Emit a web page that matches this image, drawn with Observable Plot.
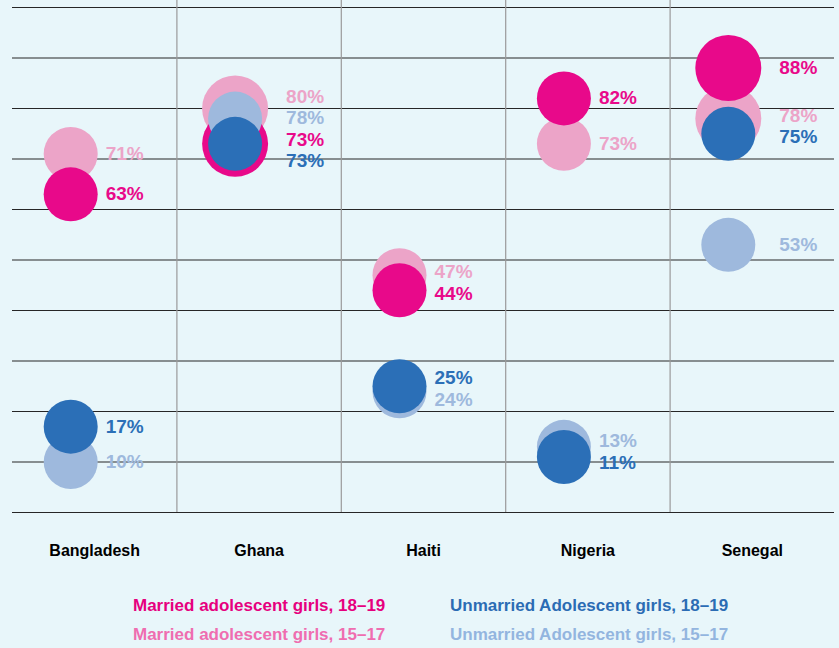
<!DOCTYPE html>
<html>
<head>
<meta charset="utf-8">
<script src="https://cdn.jsdelivr.net/npm/d3@7"></script>
<script src="https://cdn.jsdelivr.net/npm/@observablehq/plot@0.6"></script>
<style>
  html, body { margin: 0; padding: 0; background: #e8f6fa; }
  body { width: 839px; height: 648px; overflow: hidden; font-family: "Liberation Sans", Arial, Helvetica, sans-serif; }
  #chart svg { display: block; }
  #legend { position: relative; width: 839px; height: 68px; }
  .lg { position: absolute; font-weight: bold; font-size: 17px; line-height: 20px; white-space: nowrap; }
</style>
</head>
<body>
<div id="chart"></div>
<div id="legend"></div>
<script>
// ---- data ----
const countries = ["Bangladesh", "Ghana", "Haiti", "Nigeria", "Senegal"];
const seriesNames = [
  "Married adolescent girls, 15–17",
  "Married adolescent girls, 18–19",
  "Unmarried Adolescent girls, 15–17",
  "Unmarried Adolescent girls, 18–19"
];
const married1517   = [71, 80, 47, 73, 78];
const married1819   = [63, 73, 44, 82, 88];
const unmarried1517 = [10, 78, 24, 13, 53];
const unmarried1819 = [17, 73, 25, 11, 75];
const yTicks = [0, 10, 20, 30, 40, 50, 60, 70, 80, 90, 100];

// ---- styling config ----
const seriesColors = ["#eca4c8", "#e8098a", "#9eb9dd", "#2b6fb7"];
const legendColors = ["#ef6db0", "#e6007e", "#93b5df", "#2b6cb4"];
// bubbles drawn larger so they show behind overlapping ones
const enlarged = [["Ghana", 0], ["Ghana", 1], ["Senegal", 0], ["Senegal", 1]];
const enlargedCountries = new Set(enlarged.map(d => d[0]));

const seriesValues = [married1517, married1819, unmarried1517, unmarried1819];
const rows = [];
countries.forEach((c, i) => {
  seriesValues.forEach((vals, s) => {
    rows.push({
      xi: i,
      country: c,
      s,
      series: seriesNames[s],
      value: vals[i],
      r: enlarged.some(([ec, es]) => ec === c && es === s) ? 33 : 27
    });
  });
});

// dodge labels vertically (in value units) within each country
const gap = 4.25;
countries.forEach(c => {
  const items = rows.filter(d => d.country === c)
    .sort((a, b) => (b.value - a.value) || (a.s - b.s));
  let clusters = items.map(d => ({items: [d], center: d.value}));
  let changed = true;
  while (changed) {
    changed = false;
    for (let k = 0; k < clusters.length - 1; k++) {
      const a = clusters[k], b = clusters[k + 1];
      const aBottom = a.center - (a.items.length - 1) / 2 * gap;
      const bTop = b.center + (b.items.length - 1) / 2 * gap;
      if (aBottom - bTop < gap) {
        const its = a.items.concat(b.items);
        clusters.splice(k, 2, {items: its, center: d3.mean(its, d => d.value)});
        changed = true;
        break;
      }
    }
  }
  clusters.forEach(cl => {
    const n = cl.items.length;
    cl.items.forEach((d, j) => { d.labelY = cl.center + ((n - 1) / 2 - j) * gap; });
  });
});

const font = "'Liberation Sans', Arial, Helvetica, sans-serif";

const chart = Plot.plot({
  width: 839,
  height: 580,
  marginTop: 7,
  marginBottom: 68,
  marginLeft: 12,
  marginRight: 5,
  style: {background: "transparent", fontFamily: font, color: "#000", overflow: "visible"},
  x: {domain: [-0.5, countries.length - 0.5], axis: null, label: null},
  y: {domain: [0, 100], axis: null, label: null},
  r: {type: "identity"},
  color: {domain: seriesNames, range: seriesColors},
  marks: [
    Plot.ruleY(yTicks, {stroke: "#262626", strokeWidth: 1.1}),
    Plot.ruleX(countries.slice(1).map((_, i) => i + 0.5), {stroke: "#9a9a9a", strokeWidth: 1.2, insetTop: -7}),
    Plot.axisX({
      ticks: countries.map((_, i) => i),
      tickFormat: i => countries[i],
      tickSize: 0,
      tickPadding: 32,
      fontSize: 16,
      fontWeight: "bold",
      fill: "#000",
      label: null
    }),
    Plot.dot(rows, {x: "xi", y: "value", r: "r", fill: "series", dx: -24}),
    Plot.text(rows.filter(d => !enlargedCountries.has(d.country)), {
      x: "xi", y: "labelY", text: d => d.value + "%", fill: "series",
      textAnchor: "start", dx: 11, fontSize: 19, fontWeight: "bold"
    }),
    Plot.text(rows.filter(d => enlargedCountries.has(d.country)), {
      x: "xi", y: "labelY", text: d => d.value + "%", fill: "series",
      textAnchor: "start", dx: 27, fontSize: 19, fontWeight: "bold"
    })
  ]
});
document.getElementById("chart").appendChild(chart);

// legend below the chart
const legendLayout = [
  {s: 1, left: 133, top: 16},
  {s: 0, left: 133, top: 45},
  {s: 3, left: 450, top: 16},
  {s: 2, left: 450, top: 45}
];
const legend = document.getElementById("legend");
legendLayout.forEach(({s, left, top}) => {
  const div = document.createElement("div");
  div.className = "lg";
  div.style.left = left + "px";
  div.style.top = top + "px";
  div.style.color = legendColors[s];
  div.textContent = seriesNames[s];
  legend.appendChild(div);
});
</script>
</body>
</html>
